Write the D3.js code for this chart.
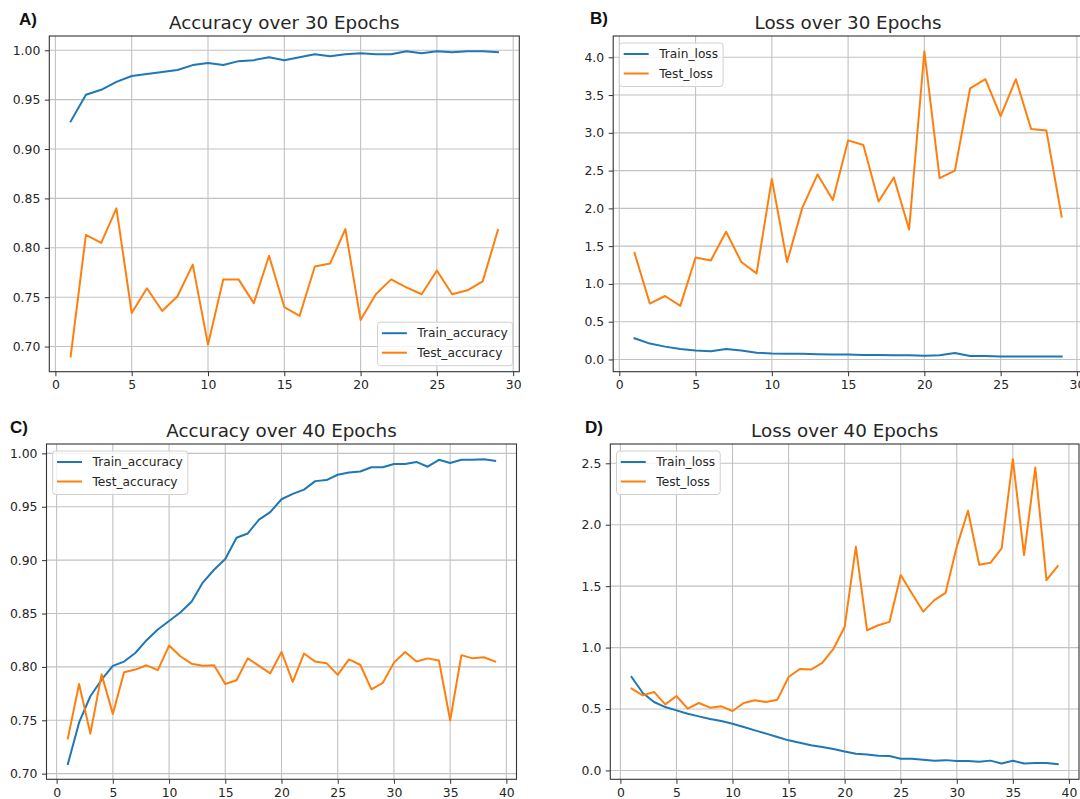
<!DOCTYPE html>
<html>
<head>
<meta charset="utf-8">
<script src="https://cdn.jsdelivr.net/npm/d3@7"></script>
<style>
  html, body { margin: 0; padding: 0; background: #fff; overflow: hidden; }
  svg { display: block; }
  text { font-family: "DejaVu Sans", sans-serif; fill: #262626; }
</style>
</head>
<body>
<svg id="chart" width="1080" height="799"></svg>
<script>
// Training history for the 30- and 40-epoch runs
const epochs30 = [1,2,3,4,5,6,7,8,9,10,11,12,13,14,15,16,17,18,19,20,21,22,23,24,25,26,27,28,29];
const epochs40 = [1,2,3,4,5,6,7,8,9,10,11,12,13,14,15,16,17,18,19,20,21,22,23,24,25,26,27,28,29,30,31,32,33,34,35,36,37,38,39];

const trainAcc30 = [0.928,0.955,0.960,0.968,0.974,0.976,0.978,0.980,0.985,0.987,0.985,0.989,0.990,0.993,0.990,0.993,0.996,0.994,0.996,0.997,0.996,0.996,0.999,0.997,0.999,0.998,0.999,0.999,0.998];
const testAcc30  = [0.690,0.813,0.805,0.840,0.734,0.759,0.736,0.751,0.783,0.702,0.768,0.768,0.744,0.792,0.740,0.731,0.781,0.784,0.819,0.727,0.753,0.768,0.760,0.753,0.777,0.753,0.757,0.766,0.818];

const trainLoss30 = [0.28,0.21,0.17,0.14,0.12,0.11,0.14,0.12,0.09,0.08,0.075,0.075,0.07,0.065,0.065,0.06,0.06,0.055,0.055,0.05,0.055,0.085,0.045,0.045,0.04,0.04,0.04,0.04,0.04];
const testLoss30  = [1.41,0.74,0.84,0.71,1.35,1.31,1.69,1.29,1.14,2.39,1.29,2.01,2.45,2.11,2.90,2.84,2.09,2.41,1.72,4.08,2.40,2.50,3.59,3.71,3.22,3.71,3.05,3.03,1.89];

const trainAcc40 = [0.709,0.748,0.7725,0.788,0.801,0.805,0.813,0.825,0.835,0.843,0.851,0.861,0.879,0.891,0.901,0.921,0.925,0.938,0.945,0.957,0.962,0.966,0.974,0.975,0.980,0.982,0.983,0.987,0.987,0.990,0.990,0.992,0.9875,0.994,0.991,0.994,0.994,0.9945,0.993];
const testAcc40  = [0.733,0.784,0.7375,0.793,0.756,0.795,0.7975,0.8015,0.797,0.820,0.810,0.803,0.801,0.8015,0.784,0.7875,0.808,0.801,0.794,0.814,0.786,0.8125,0.805,0.8035,0.7925,0.807,0.802,0.779,0.785,0.804,0.814,0.805,0.808,0.806,0.750,0.811,0.808,0.809,0.805];

const trainLoss40 = [0.761,0.63,0.557,0.516,0.489,0.462,0.44,0.418,0.402,0.38,0.353,0.326,0.30,0.272,0.245,0.225,0.205,0.19,0.174,0.155,0.136,0.13,0.12,0.117,0.095,0.095,0.087,0.079,0.084,0.076,0.076,0.07,0.08,0.057,0.079,0.057,0.06,0.06,0.052];
const testLoss40  = [0.666,0.611,0.639,0.538,0.606,0.503,0.549,0.511,0.522,0.484,0.549,0.571,0.557,0.576,0.761,0.826,0.821,0.875,0.99,1.168,1.82,1.141,1.182,1.209,1.59,1.44,1.293,1.386,1.446,1.82,2.114,1.674,1.69,1.807,2.533,1.753,2.465,1.549,1.663];

const xTicks30 = [0,5,10,15,20,25,30];
const xTicks40 = [0,5,10,15,20,25,30,35,40];
const accTicks30 = [0.70,0.75,0.80,0.85,0.90,0.95,1.00];
const lossTicks30 = [0.0,0.5,1.0,1.5,2.0,2.5,3.0,3.5,4.0];
const accTicks40 = [0.70,0.75,0.80,0.85,0.90,0.95,1.00];
const lossTicks40 = [0.0,0.5,1.0,1.5,2.0,2.5];

const panelLetters = ["A)", "B)", "C)", "D)"];
const titles = ["Accuracy over 30 Epochs", "Loss over 30 Epochs", "Accuracy over 40 Epochs", "Loss over 40 Epochs"];
const seriesNames = [["Train_accuracy","Test_accuracy"],["Train_loss","Test_loss"],["Train_accuracy","Test_accuracy"],["Train_loss","Test_loss"]];

const BLUE = "#1f77b4", ORANGE = "#ff7f0e";

const panels = [
  { letter: panelLetters[0], title: titles[0], names: seriesNames[0], x: epochs30, series: [trainAcc30, testAcc30],
    xTicks: xTicks30, yTicks: accTicks30, fmt: d3.format(".2f"),
    box: { l: 49.3, r: 519.3, t: 36, b: 371.7 }, letterPos: [19, 25], legend: "lower right" },
  { letter: panelLetters[1], title: titles[1], names: seriesNames[1], x: epochs30, series: [trainLoss30, testLoss30],
    xTicks: xTicks30, yTicks: lossTicks30, fmt: d3.format(".1f"),
    box: { l: 613.2, r: 1083, t: 36, b: 371.7 }, letterPos: [590, 24], legend: "upper left" },
  { letter: panelLetters[2], title: titles[2], names: seriesNames[2], x: epochs40, series: [trainAcc40, testAcc40],
    xTicks: xTicks40, yTicks: accTicks40, fmt: d3.format(".2f"),
    box: { l: 46.5, r: 516.5, t: 444, b: 779.3 }, letterPos: [10, 433], legend: "upper left" },
  { letter: panelLetters[3], title: titles[3], names: seriesNames[3], x: epochs40, series: [trainLoss40, testLoss40],
    xTicks: xTicks40, yTicks: lossTicks40, fmt: d3.format(".1f"),
    box: { l: 610.3, r: 1079, t: 444, b: 779.3 }, letterPos: [585, 433], legend: "upper left" }
];

const svg = d3.select("#chart");

// Pad an extent by 5% on each side, as matplotlib's autoscale does
function padded(values) {
  const [lo, hi] = d3.extent(values);
  const m = (hi - lo) * 0.05;
  return [lo - m, hi + m];
}

panels.forEach(p => {
  const { l, r, t, b } = p.box;
  const allY = p.series.flat();
  const x = d3.scaleLinear().domain(padded(p.x)).range([l, r]);
  const y = d3.scaleLinear().domain(padded(allY)).range([b, t]);

  const g = svg.append("g");

  // grid
  g.append("g").selectAll("line").data(p.xTicks).join("line")
    .attr("x1", d => x(d)).attr("x2", d => x(d)).attr("y1", t).attr("y2", b)
    .attr("stroke", "#c2c2c2").attr("stroke-width", 1.1);
  g.append("g").selectAll("line").data(p.yTicks).join("line")
    .attr("x1", l).attr("x2", r).attr("y1", d => y(d)).attr("y2", d => y(d))
    .attr("stroke", "#c2c2c2").attr("stroke-width", 1.1);

  // axes
  const xAxis = d3.axisBottom(x).tickValues(p.xTicks).tickFormat(d3.format("d")).tickSize(4.5).tickPadding(4.5);
  const yAxis = d3.axisLeft(y).tickValues(p.yTicks).tickFormat(p.fmt).tickSize(4.5).tickPadding(4.5);
  const gx = g.append("g").attr("transform", `translate(0,${b})`).call(xAxis);
  const gy = g.append("g").attr("transform", `translate(${l},0)`).call(yAxis);
  [gx, gy].forEach(a => {
    a.select(".domain").remove();
    a.selectAll(".tick line").attr("stroke", "#333").attr("stroke-width", 1);
    a.selectAll(".tick text").attr("font-size", 12.4).attr("fill", "#262626")
      .style("font-family", "'DejaVu Sans', sans-serif");
  });

  // series lines
  const colors = [BLUE, ORANGE];
  p.series.forEach((vals, i) => {
    const line = d3.line().x((d, j) => x(p.x[j])).y(d => y(d));
    g.append("path").datum(vals)
      .attr("d", line)
      .attr("fill", "none")
      .attr("stroke", colors[i])
      .attr("stroke-width", 2)
      .attr("stroke-linejoin", "round")
      .attr("stroke-linecap", "square");
  });

  // frame
  g.append("rect").attr("x", l).attr("y", t).attr("width", r - l).attr("height", b - t)
    .attr("fill", "none").attr("stroke", "#333").attr("stroke-width", 1.1);

  // title
  g.append("text").attr("x", (l + r) / 2).attr("y", t - 7)
    .attr("text-anchor", "middle").attr("font-size", 18.3).text(p.title);

  // panel letter
  g.append("text").attr("x", p.letterPos[0]).attr("y", p.letterPos[1])
    .attr("font-size", 17).attr("font-weight", "bold")
    .style("font-family", "'Liberation Sans', Arial, sans-serif")
    .style("fill", "#111").text(p.letter);

  // legend
  const lg = g.append("g");
  const rows = p.names.map((n, i) => ({ n, c: colors[i] }));
  const texts = lg.selectAll("text").data(rows).join("text")
    .attr("font-size", 12.2).attr("dominant-baseline", "central").text(d => d.n);
  const tw = d3.max(texts.nodes(), n => n.getComputedTextLength());
  const bw = 4.3 + 25 + 10.5 + tw + 5;
  const bh = 43.5;
  let bx, by;
  if (p.legend === "lower right") { bx = r - 6.6 - bw; by = b - 6 - bh; }
  else { bx = l + 6.2; by = t + 7; }
  lg.insert("rect", "text").attr("x", bx).attr("y", by).attr("width", bw).attr("height", bh)
    .attr("rx", 3).attr("fill", "rgba(255,255,255,0.8)").attr("stroke", "#d0d0d0").attr("stroke-width", 1);
  const rowY = [by + 11, by + 30.5];
  lg.selectAll("line").data(rows).join("line")
    .attr("x1", bx + 4.3).attr("x2", bx + 29.3)
    .attr("y1", (d, i) => rowY[i]).attr("y2", (d, i) => rowY[i])
    .attr("stroke", d => d.c).attr("stroke-width", 2);
  texts.attr("x", bx + 39.8).attr("y", (d, i) => rowY[i]);
});
</script>
</body>
</html>
